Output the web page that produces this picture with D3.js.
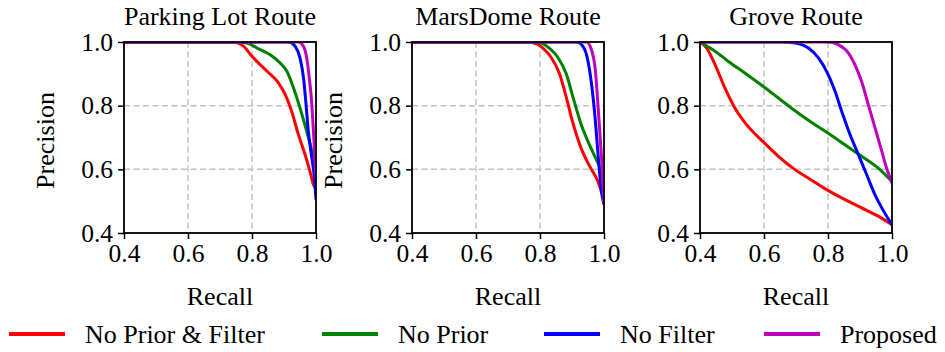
<!DOCTYPE html>
<html>
<head>
<meta charset="utf-8">
<script src="https://cdn.jsdelivr.net/npm/d3@7"></script>
<style>
  html, body { margin: 0; padding: 0; background: #fff; }
</style>
</head>
<body>
<svg id="chart" width="945" height="352"></svg>
<script>
// Method names and colours
const methods = ["No Prior & Filter", "No Prior", "No Filter", "Proposed"];
const colors = ["#ff0000", "#008000", "#0000ff", "#bf00bf"];

// Route titles
const routes = ["Parking Lot Route", "MarsDome Route", "Grove Route"];

// Axis ticks
const tickValues = [0.4, 0.6, 0.8, 1.0];

// Precision-recall curves, [recall, precision]
const parkingNoPriorFilter = [[0.40,1.0],[0.74,1.0],[0.774,0.986],[0.80,0.955],[0.847,0.908],[0.883,0.871],[0.904,0.835],[0.924,0.782],[0.945,0.709],[0.966,0.646],[0.981,0.594],[0.992,0.552],[1.0,0.54]];
const parkingNoPrior = [[0.40,1.0],[0.76,1.0],[0.79,0.995],[0.816,0.981],[0.857,0.96],[0.888,0.934],[0.909,0.908],[0.93,0.855],[0.95,0.793],[0.971,0.719],[0.987,0.657],[1.0,0.58]];
const parkingNoFilter = [[0.40,1.0],[0.915,1.0],[0.935,0.986],[0.95,0.95],[0.961,0.887],[0.969,0.803],[0.976,0.719],[0.987,0.636],[0.995,0.573],[1.0,0.505]];
const parkingProposed = [[0.40,1.0],[0.945,1.0],[0.961,0.986],[0.971,0.95],[0.979,0.887],[0.987,0.803],[0.992,0.719],[1.0,0.57]];

const marsNoPriorFilter = [[0.40,1.0],[0.76,1.0],[0.79,0.994],[0.81,0.98],[0.834,0.953],[0.861,0.9],[0.882,0.827],[0.903,0.745],[0.929,0.665],[0.955,0.61],[0.981,0.562],[1.0,0.505]];
const marsNoPrior = [[0.40,1.0],[0.785,1.0],[0.81,0.994],[0.83,0.98],[0.855,0.953],[0.882,0.9],[0.903,0.827],[0.929,0.74],[0.96,0.665],[0.99,0.6],[1.0,0.575]];
const marsNoFilter = [[0.40,1.0],[0.915,1.0],[0.939,0.978],[0.955,0.911],[0.971,0.775],[0.983,0.628],[0.992,0.53],[1.0,0.49]];
const marsProposed = [[0.40,1.0],[0.945,1.0],[0.96,0.978],[0.973,0.911],[0.983,0.775],[0.992,0.64],[1.0,0.49]];

const groveNoPriorFilter = [[0.40,1.0],[0.405,0.997],[0.421,0.981],[0.447,0.929],[0.478,0.855],[0.509,0.793],[0.541,0.746],[0.601,0.683],[0.645,0.641],[0.697,0.599],[0.749,0.566],[0.801,0.533],[0.853,0.505],[0.905,0.479],[0.957,0.453],[1.0,0.426]];
const groveNoPrior = [[0.40,1.0],[0.447,0.971],[0.489,0.939],[0.541,0.902],[0.601,0.858],[0.645,0.824],[0.697,0.784],[0.749,0.747],[0.801,0.713],[0.853,0.677],[0.905,0.641],[0.957,0.604],[1.0,0.562]];
const groveNoFilter = [[0.40,1.0],[0.66,1.0],[0.697,0.997],[0.739,0.981],[0.77,0.95],[0.801,0.897],[0.822,0.845],[0.843,0.782],[0.869,0.709],[0.895,0.646],[0.921,0.583],[0.947,0.52],[0.968,0.479],[1.0,0.426]];
const groveProposed = [[0.40,1.0],[0.8,1.0],[0.832,0.992],[0.864,0.965],[0.884,0.929],[0.905,0.876],[0.926,0.803],[0.947,0.73],[0.968,0.657],[0.983,0.604],[1.0,0.557]];

const routeCurves = [
  [parkingNoPriorFilter, parkingNoPrior, parkingNoFilter, parkingProposed],
  [marsNoPriorFilter, marsNoPrior, marsNoFilter, marsProposed],
  [groveNoPriorFilter, groveNoPrior, groveNoFilter, groveProposed]
];

const serif = '"Liberation Serif", "Times New Roman", Times, serif';
const svg = d3.select("#chart");
const panelLeft = [124, 412, 700];
const panelTop = 42, W = 192, H = 191;
const fontSize = 25.5;

function styleText(sel, size) {
  return sel.style("font-family", serif).style("font-size", size + "px").attr("fill", "#000");
}

routes.forEach((title, i) => {
  const g = svg.append("g").attr("transform", `translate(${panelLeft[i]},${panelTop})`);
  const x = d3.scaleLinear().domain([0.4, 1.0]).range([0, W]);
  const y = d3.scaleLinear().domain([0.4, 1.0]).range([H, 0]);

  // dashed grid
  const grid = g.append("g");
  grid.selectAll(".gx").data(tickValues).join("line")
    .attr("x1", d => x(d)).attr("x2", d => x(d)).attr("y1", 0).attr("y2", H)
    .attr("stroke", "#c4c4c4").attr("stroke-width", 1.5).attr("stroke-dasharray", "6,3.5");
  grid.selectAll(".gy").data(tickValues).join("line")
    .attr("y1", d => y(d)).attr("y2", d => y(d)).attr("x1", 0).attr("x2", W)
    .attr("stroke", "#c4c4c4").attr("stroke-width", 1.5).attr("stroke-dasharray", "6,3.5");

  // curves, clipped to the axes box
  const clipId = "clip" + i;
  g.append("clipPath").attr("id", clipId).append("rect").attr("width", W).attr("height", H);
  const line = d3.line().x(d => x(d[0])).y(d => y(d[1])).curve(d3.curveMonotoneX);
  const lines = g.append("g").attr("clip-path", `url(#${clipId})`);
  routeCurves[i].forEach((pts, k) => {
    lines.append("path").attr("d", line(pts)).attr("fill", "none")
      .attr("stroke", colors[k]).attr("stroke-width", 3).attr("stroke-linejoin", "round");
  });

  // axes
  const xAxis = d3.axisBottom(x).tickValues(tickValues).tickFormat(d3.format(".1f")).tickSizeOuter(0).tickSize(6).tickPadding(5);
  const yAxis = d3.axisLeft(y).tickValues(tickValues).tickFormat(d3.format(".1f")).tickSizeOuter(0).tickSize(6).tickPadding(5);
  const gx = g.append("g").attr("transform", `translate(0,${H})`).call(xAxis);
  const gy = g.append("g").call(yAxis);
  [gx, gy].forEach(a => {
    a.attr("font-family", null).attr("font-size", null);
    a.select(".domain").remove();
    a.selectAll(".tick line").attr("stroke", "#000").attr("stroke-width", 1.5);
    styleText(a.selectAll(".tick text"), fontSize);
  });

  // frame
  g.append("rect").attr("width", W).attr("height", H).attr("fill", "none")
    .attr("stroke", "#000").attr("stroke-width", 1.8);

  // title and labels
  styleText(g.append("text").attr("x", W / 2).attr("y", -17).attr("text-anchor", "middle"), 26).text(title);
  styleText(g.append("text").attr("x", W / 2).attr("y", H + 72).attr("text-anchor", "middle"), 26).text("Recall");
  if (i < 2) {
    styleText(g.append("text").attr("transform", `translate(-70,${H / 2 + 3}) rotate(-90)`)
      .attr("text-anchor", "middle"), 26).text("Precision");
  }
});

// legend
const legendX = [9, 322, 544, 764];
const legend = svg.append("g").attr("transform", "translate(0,334)");
methods.forEach((m, k) => {
  legend.append("line").attr("x1", legendX[k]).attr("x2", legendX[k] + 56)
    .attr("stroke", colors[k]).attr("stroke-width", 4);
  styleText(legend.append("text").attr("x", legendX[k] + 76).attr("y", 9), 26).text(m);
});
</script>
</body>
</html>
